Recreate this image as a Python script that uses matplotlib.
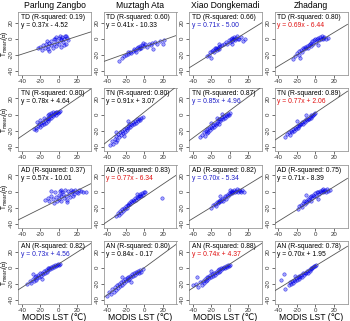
import matplotlib
matplotlib.use("Agg")
import matplotlib.pyplot as plt

plt.rcParams['font.family'] = ['Liberation Sans', 'DejaVu Sans']
plt.rcParams['mathtext.fontset'] = 'dejavusans'

# Estaciones (columnas) y variables (filas)
stations = ['Parlung Zangbo', 'Muztagh Ata', 'Xiao Dongkemadi', 'Zhadang']
variables = ['TD', 'TN', 'AD', 'AN']

# R-cuadrado, pendiente e intercepto por fila (TD, TN, AD, AN) y columna
r2 = [[0.19, 0.60, 0.66, 0.80],
      [0.80, 0.80, 0.87, 0.89],
      [0.37, 0.83, 0.82, 0.75],
      [0.82, 0.80, 0.88, 0.78]]
slopes = [[0.37, 0.41, 0.71, 0.69],
          [0.78, 0.91, 0.85, 0.77],
          [0.57, 0.77, 0.70, 0.71],
          [0.73, 0.84, 0.74, 0.70]]
intercepts = [[-4.52, -10.33, -5.00, -6.44],
              [4.64, 3.07, 4.96, 2.06],
              [-10.01, -6.34, -5.34, -8.39],
              [4.56, -0.17, 4.37, 1.95]]
# color de la ecuacion: k negro, b azul, r rojo
eq_colors = [['k', 'k', 'b', 'r'],
             ['k', 'k', 'b', 'r'],
             ['k', 'r', 'b', 'k'],
             ['b', 'k', 'r', 'k']]

# Puntos (MODIS LST, Tmean)
td_pz = [(-22,-12),(-20,-10),(-18,-14),(-17,-8),(-15,-11),(-14,-6),(-12,-9),(-12,-13),(-10,-5),(-10,-15),(-8,-8),(-8,-3),(-6,-11),(-5,-1),(-5,-6),(-3,2),(-3,-9),(-2,-4),(0,1),(0,-7),(1,3),(2,-2),(3,-10),(4,2),(5,-4),(6,0),(7,3),(8,-6),(9,1),(10,-2),(-4,0),(2,0),(6,-8),(-13,-3),(8,3)]
td_ma = [(-27,-28),(-24,-24),(-22,-22),(-20,-20),(-18,-19),(-17,-17),(-15,-16),(-14,-18),(-12,-15),(-11,-13),(-10,-14),(-8,-12),(-7,-10),(-6,-13),(-5,-11),(-4,-9),(-3,-12),(-2,-8),(0,-9),(1,-7),(3,-10),(5,-6),(7,-8),(9,-5),(10,-13),(12,-4),(14,-7),(17,-3),(20,-6),(22,-2),(-9,-17),(-1,-5)]
td_xd = [(-24,-22),(-22,-20),(-21,-17),(-19,-15),(-18,-14),(-17,-16),(-16,-12),(-15,-13),(-15,-11),(-14,-14),(-13,-12),(-12,-10),(-11,-13),(-10,-9),(-8,-8),(-6,-6),(-4,-4),(-3,-7),(-1,-2),(0,-4),(1,0),(2,-3),(3,1),(4,-1),(5,2),(5,0),(6,-2),(7,1),(8,3),(9,0),(10,-1),(12,2),(14,-3),(17,-1),(-20,-24),(-12,-6),(3,-6)]
td_zd = [(-24,-25),(-22,-22),(-20,-18),(-18,-20),(-17,-15),(-15,-14),(-14,-17),(-13,-12),(-12,-13),(-11,-10),(-10,-11),(-9,-9),(-8,-12),(-7,-8),(-6,-6),(-5,-9),(-4,-5),(-3,-3),(-2,-6),(-1,-2),(0,-1),(1,-4),(2,0),(3,1),(4,-2),(5,2),(6,0),(7,3),(8,1),(9,-1),(10,2),(12,0),(14,1),(-16,-24),(3,-8)]

tn_pz = [(-27,-18),(-25,-16),(-24,-19),(-22,-14),(-21,-12),(-20,-15),(-19,-10),(-18,-13),(-17,-9),(-16,-11),(-15,-7),(-14,-10),(-13,-6),(-12,-8),(-11,-4),(-10,-6),(-9,-2),(-8,-4),(-7,0),(-6,-2),(-5,1),(-4,2),(-3,0),(-2,3),(-1,2),(0,3),(1,4),(-8,2),(-12,0),(-16,-4),(-20,-7),(-23,-9),(-6,3),(-3,3),(-10,1)]
tn_ma = [(-37,-38),(-35,-33),(-34,-36),(-32,-30),(-31,-34),(-30,-27),(-29,-31),(-28,-24),(-27,-28),(-26,-22),(-25,-25),(-24,-20),(-23,-23),(-22,-18),(-21,-21),(-20,-16),(-19,-19),(-18,-14),(-17,-17),(-16,-12),(-15,-15),(-14,-11),(-13,-13),(-12,-9),(-11,-11),(-10,-8),(-9,-10),(-8,-6),(-7,-8),(-6,-5),(-5,-7),(-3,-4),(-1,-3),(-22,-26),(-18,-8),(-30,-22)]
tn_xd = [(-32,-28),(-30,-25),(-28,-22),(-27,-26),(-26,-20),(-25,-23),(-24,-18),(-23,-21),(-22,-17),(-21,-19),(-20,-15),(-19,-17),(-18,-13),(-17,-15),(-16,-11),(-15,-13),(-14,-10),(-13,-8),(-12,-11),(-11,-6),(-10,-8),(-9,-5),(-8,-3),(-7,-6),(-6,-2),(-5,-4),(-4,0),(-3,-2),(-2,1),(-1,0),(0,2),(-14,-4),(-20,-10),(-8,1)]
tn_zd = [(-33,-28),(-30,-24),(-28,-22),(-27,-25),(-26,-20),(-25,-21),(-24,-18),(-23,-20),(-22,-16),(-21,-18),(-20,-14),(-19,-16),(-18,-13),(-17,-14),(-16,-11),(-15,-12),(-14,-9),(-13,-11),(-12,-8),(-11,-9),(-10,-6),(-9,-7),(-8,-5),(-7,-6),(-6,-3),(-5,-4),(-4,-1),(-3,-2),(-2,0),(-1,1),(0,2),(-20,-8),(-10,-1)]

ad_pz = [(-15,-10),(-12,-8),(-10,-12),(-8,-5),(-6,-9),(-5,-14),(-3,-7),(-2,-11),(0,-4),(0,-9),(1,1),(2,-6),(3,-12),(4,0),(5,-3),(6,-8),(7,2),(8,-5),(9,-10),(10,1),(11,-3),(12,-7),(13,2),(14,-1),(15,-5),(16,1),(17,-3),(18,2),(20,0),(21,-2),(22,2),(24,1),(26,-1),(30,0),(-4,0),(-8,1),(3,2),(9,-13)]
ad_ma = [(-30,-30),(-28,-27),(-27,-29),(-26,-24),(-25,-26),(-24,-22),(-23,-24),(-22,-20),(-21,-22),(-20,-18),(-19,-20),(-18,-16),(-17,-17),(-16,-14),(-15,-15),(-14,-12),(-13,-13),(-12,-10),(-11,-12),(-10,-8),(-9,-10),(-8,-7),(-7,-8),(-6,-5),(-5,-6),(-4,-3),(-3,-5),(-2,-2),(-1,-4),(0,-1),(1,0),(-8,-3),(19,-8)]
ad_xd = [(-20,-20),(-18,-17),(-16,-15),(-15,-18),(-14,-13),(-13,-14),(-12,-11),(-11,-13),(-10,-10),(-9,-12),(-8,-9),(-7,-11),(-6,-8),(-5,-6),(-4,-9),(-3,-4),(-2,-6),(-1,-2),(0,-3),(1,-1),(2,1),(3,-2),(4,0),(5,2),(6,-1),(7,1),(8,3),(9,0),(10,2),(11,1),(12,-1),(13,2),(15,0),(-10,-5),(0,2)]
ad_zd = [(-19,-22),(-17,-18),(-15,-16),(-14,-19),(-13,-14),(-12,-12),(-11,-15),(-10,-11),(-9,-13),(-8,-9),(-7,-10),(-6,-7),(-5,-12),(-4,-6),(-3,-8),(-2,-4),(-1,-5),(0,-2),(1,-6),(2,-1),(3,0),(4,-3),(5,1),(6,-1),(7,2),(8,0),(9,3),(10,1),(11,2),(12,0),(13,3),(14,1),(16,2),(-10,-4),(3,-9)]

an_pz = [(-34,-20),(-31,-16),(-30,-19),(-28,-14),(-27,-17),(-26,-12),(-25,-15),(-24,-10),(-23,-13),(-22,-9),(-21,-11),(-20,-7),(-19,-10),(-18,-6),(-17,-8),(-16,-4),(-15,-6),(-14,-3),(-13,-5),(-12,-1),(-11,-3),(-10,0),(-9,-2),(-8,1),(-7,0),(-6,2),(-5,1),(-4,3),(-3,2),(-2,3),(-1,4),(0,3),(1,4),(-28,-8),(-18,-14)]
an_ma = [(-40,-35),(-38,-30),(-36,-33),(-35,-27),(-33,-30),(-32,-24),(-30,-28),(-29,-22),(-28,-25),(-27,-20),(-26,-23),(-25,-18),(-24,-21),(-23,-16),(-22,-19),(-21,-14),(-20,-17),(-19,-13),(-18,-15),(-17,-11),(-16,-14),(-15,-10),(-14,-12),(-13,-8),(-12,-10),(-11,-7),(-10,-9),(-9,-5),(-8,-7),(-7,-4),(-6,-6),(-5,-3),(-3,-5),(-1,-2),(-24,-12),(-14,-18)]
an_xd = [(-40,-22),(-36,-20),(-34,-24),(-32,-18),(-30,-21),(-29,-16),(-28,-19),(-27,-14),(-26,-17),(-25,-12),(-24,-15),(-23,-11),(-22,-13),(-21,-9),(-20,-12),(-19,-8),(-18,-10),(-17,-6),(-16,-9),(-15,-5),(-14,-7),(-13,-3),(-12,-5),(-11,-2),(-10,-4),(-9,-1),(-8,-2),(-7,0),(-6,1),(-5,-1),(-4,2),(-3,1),(-2,3),(-1,2),(0,3),(-35,-12),(-20,-4)]
an_zd = [(-28,-22),(-27,-18),(-26,-20),(-25,-16),(-24,-19),(-23,-15),(-22,-17),(-21,-13),(-20,-15),(-19,-12),(-18,-14),(-17,-10),(-16,-12),(-15,-9),(-14,-11),(-13,-7),(-12,-9),(-11,-6),(-10,-7),(-9,-4),(-8,-6),(-7,-3),(-6,-4),(-5,-1),(-4,-2),(-3,0),(-2,1),(-1,2),(0,2),(1,3),(-34,-8),(-37,-15),(-33,-27),(-22,-10)]

points = [[td_pz, td_ma, td_xd, td_zd],
          [tn_pz, tn_ma, tn_xd, tn_zd],
          [ad_pz, ad_ma, ad_xd, ad_zd],
          [an_pz, an_ma, an_xd, an_zd]]

ticks = [-40, -20, 0, 20]
tick_labels = ['-40', '-20', '0', '20']

W, H = 350, 321
fig = plt.figure(figsize=(W / 100, H / 100), dpi=100)

col_left = [18, 103.5, 189, 274.5]
row_top = [12, 88, 165, 241]
aw, ah = 73, 63
color_map = {'k': 'black', 'b': '#1f1fc8', 'r': '#e01010'}

for i in range(4):
    for j in range(4):
        ax = fig.add_axes([col_left[j] / W, 1 - (row_top[i] + ah) / H, aw / W, ah / H])
        xs = [p[0] for p in points[i][j]]
        ys = [p[1] for p in points[i][j]]
        ax.scatter(xs, ys, s=6, marker='o', facecolor=(0, 0, 1, 0.35),
                   edgecolor=(0, 0, 0.85, 0.7), linewidths=0.4, zorder=2)
        ax.axline((0, intercepts[i][j]), slope=slopes[i][j], color='#555555', lw=0.6, zorder=3)
        ax.set_xlim(-44, 35)
        ax.set_ylim(-45, 33)
        ax.set_xticks(ticks)
        ax.set_xticklabels(tick_labels)
        ax.set_yticks(ticks)
        ax.set_yticklabels(tick_labels, rotation=90, va='center')
        ax.tick_params(length=2, width=0.5, pad=0.8, labelsize=4.4, colors='#333333')
        for sp in ax.spines.values():
            sp.set_color('#999999')
            sp.set_linewidth(0.6)
        ax.text(0.04, 0.97, f"{variables[i]} (R-squared: {r2[i][j]:.2f})",
                transform=ax.transAxes, ha='left', va='top', fontsize=4.9)
        sign = '+' if intercepts[i][j] >= 0 else '-'
        ax.text(0.04, 0.84, f"y = {slopes[i][j]:.2f}x {sign} {abs(intercepts[i][j]):.2f}",
                transform=ax.transAxes, ha='left', va='top', fontsize=4.9,
                color=color_map[eq_colors[i][j]])
        if i == 0:
            ax.set_title(stations[j], fontsize=6.2, pad=3)
        if j == 0:
            ax.set_ylabel("T$_{\\rm mean}$(℃)", fontsize=4.7, va='center')
            ax.yaxis.set_label_coords(-13 / aw, 0.5)
        if i == 3:
            ax.set_xlabel("MODIS LST (℃)", fontsize=6.2, va='center')
            ax.xaxis.set_label_coords(0.5, -13 / ah)

fig.savefig('out.png', dpi=100)
